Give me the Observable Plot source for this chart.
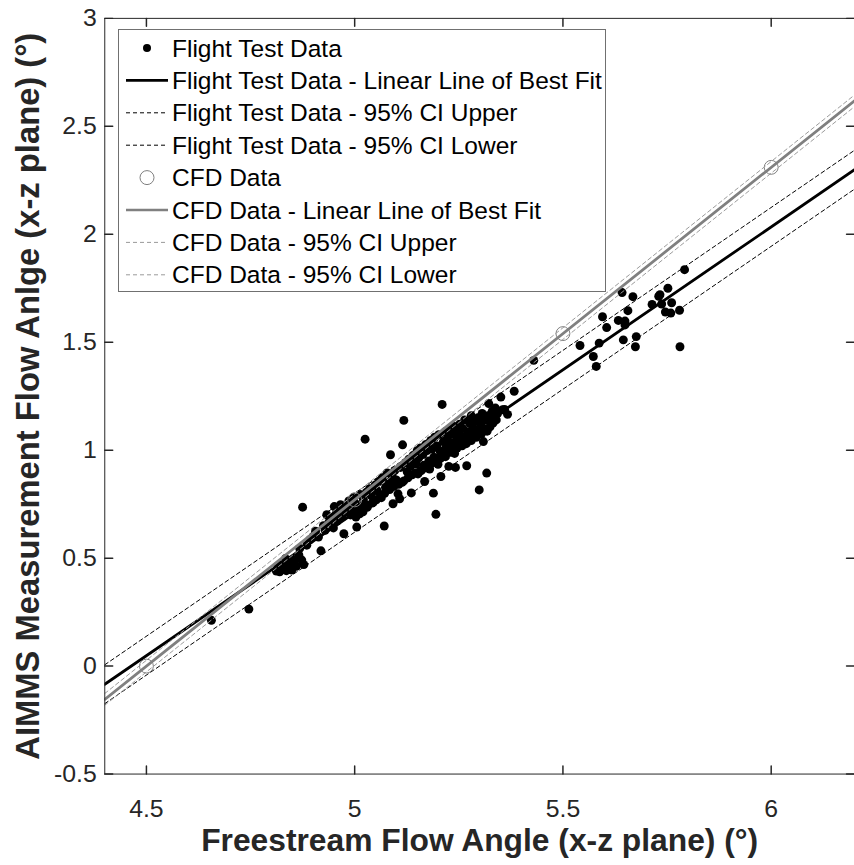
<!DOCTYPE html>
<html><head><meta charset="utf-8">
<script src="https://cdn.jsdelivr.net/npm/d3@7"></script>
<script src="https://cdn.jsdelivr.net/npm/@observablehq/plot@0.6"></script>
<style>
html,body{margin:0;padding:0;background:#fff;overflow:hidden;}
#wrap{position:relative;width:854px;height:865px;overflow:hidden;}
#legend{position:absolute;left:118px;top:29px;}
</style></head><body><div id="wrap"></div>
<script>
// ---- data ----
const xTicks = [4.5, 5, 5.5, 6];
const yTicks = [-0.5, 0, 0.5, 1, 1.5, 2, 2.5, 3];
const xLabel = "Freestream Flow Angle (x-z plane) (°)";
const yLabel = "AIMMS Measurement Flow Anlge (x-z plane) (°)";
const legendLabels = [
  "Flight Test Data",
  "Flight Test Data - Linear Line of Best Fit",
  "Flight Test Data - 95% CI Upper",
  "Flight Test Data - 95% CI Lower",
  "CFD Data",
  "CFD Data - Linear Line of Best Fit",
  "CFD Data - 95% CI Upper",
  "CFD Data - 95% CI Lower"
];
const flightTest = [
  [4.656,0.212],[4.746,0.264],
  [4.812,0.440],[4.815,0.455],[4.820,0.437],[4.822,0.470],[4.826,0.448],[4.830,0.460],[4.834,0.498],[4.836,0.442],[4.841,0.475],[4.845,0.452],[4.849,0.445],[4.852,0.485],[4.857,0.491],[4.860,0.462],[4.866,0.515],[4.873,0.491],[4.878,0.470],[4.868,0.545],[4.885,0.560],
  [4.875,0.736],[4.892,0.585],[4.900,0.600],[4.906,0.625],[4.913,0.598],[4.919,0.534],[4.925,0.650],[4.929,0.629],[4.933,0.701],[4.938,0.665],[4.944,0.688],[4.949,0.640],[4.951,0.739],[4.955,0.705],[4.958,0.672],[4.962,0.728],
  [4.966,0.748],[4.970,0.690],[4.974,0.613],[4.978,0.715],[4.982,0.742],[4.986,0.765],[4.990,0.700],[4.994,0.730],[4.998,0.782],[5.002,0.752],[5.005,0.644],[5.009,0.718],[5.013,0.795],[5.017,0.735],[5.021,0.770],[5.025,1.051],[5.028,0.805],[5.032,0.745],[5.036,0.822],[5.040,0.788],[5.045,0.760],[5.049,0.838],
  [5.003,0.690],[5.012,0.705],[5.020,0.715],[5.030,0.735],[5.042,0.755],[5.052,0.770],[5.064,0.780],[5.072,0.800],[5.084,0.818],[5.094,0.832],[5.106,0.842],[5.118,0.858],[5.128,0.872],[5.138,0.886],[5.146,0.895],
  [5.054,0.812],[5.058,0.855],[5.062,0.790],[5.066,0.872],[5.071,0.649],[5.074,0.828],[5.078,0.895],[5.082,0.850],[5.086,0.979],[5.090,0.878],[5.092,0.752],[5.096,0.905],[5.100,0.862],[5.104,0.798],[5.108,0.775],[5.110,0.920],[5.114,0.851],[5.115,1.025],[5.118,1.138],[5.122,0.942],[5.126,0.900],[5.130,0.958],[5.134,0.925],[5.136,0.802],[5.140,0.975],[5.144,0.940],[5.148,0.936],[5.150,0.998],
  [5.154,0.965],[5.158,1.010],[5.162,0.985],[5.164,0.980],[5.168,0.855],[5.170,1.025],[5.174,0.998],[5.177,1.031],[5.180,0.913],[5.183,1.045],[5.186,1.005],[5.189,0.801],[5.192,1.060],[5.195,0.703],[5.198,1.020],[5.202,1.072],[5.205,0.995],[5.207,0.878],[5.210,1.212],[5.213,1.040],[5.217,1.085],[5.220,1.015],[5.223,1.060],[5.226,0.925],[5.229,1.095],[5.232,1.035],[5.236,1.075],[5.239,1.110],[5.242,0.920],[5.245,1.050],[5.248,1.090],
  [5.152,0.890],[5.160,0.905],[5.166,0.930],[5.172,0.918],[5.178,0.950],[5.185,0.940],[5.190,0.968],[5.196,0.955],[5.200,0.935],[5.206,0.962],[5.212,0.985],[5.218,0.970],[5.224,1.000],[5.230,0.990],[5.236,1.018],[5.240,0.985],[5.246,1.010],[5.252,1.035],[5.258,1.020],[5.262,1.048],[5.268,1.030],[5.274,1.062],[5.280,1.045],[5.286,1.078],[5.292,1.060],[5.298,1.092],[5.304,1.075],[5.310,1.100],[5.318,1.088],[5.325,1.108],[5.332,1.125],[5.340,1.140],
  [5.252,1.120],[5.256,1.065],[5.260,1.100],[5.264,1.140],[5.269,0.928],[5.272,1.085],[5.276,1.125],[5.280,1.160],[5.284,1.105],[5.288,1.135],[5.292,1.080],[5.296,1.150],[5.299,0.816],[5.302,1.120],[5.306,1.170],[5.309,1.040],[5.312,1.140],[5.317,0.894],[5.320,1.160],[5.322,1.216],[5.326,1.125],[5.330,1.180],[5.334,1.150],[5.338,1.195],[5.343,1.170],[5.351,1.246],[5.355,1.187],[5.360,1.189],[5.367,1.166],[5.383,1.273],
  [5.430,1.416],[5.541,1.485],[5.573,1.434],[5.580,1.388],[5.587,1.496],[5.595,1.618],[5.605,1.568],[5.633,1.601],[5.642,1.730],[5.645,1.511],[5.649,1.598],[5.649,1.580],[5.656,1.646],[5.668,1.711],[5.674,1.479],[5.676,1.526],[5.714,1.675],[5.730,1.713],[5.733,1.720],[5.737,1.677],[5.746,1.640],[5.752,1.750],[5.759,1.635],[5.761,1.683],[5.780,1.648],[5.781,1.479],[5.792,1.836]
];
const cfdX = [4.5, 5.0, 5.5, 6.0];
const cfdY = [0.0, 0.77, 1.54, 2.31];
const fitX = [4.4, 6.2];
const ftFitY = [-0.084, 2.299];
const ftUpperY = [0.006, 2.389];
const ftLowerY = [-0.174, 2.209];
const cfdFitY = [-0.154, 2.618];
const cfdUpperY = [-0.127, 2.645];
const cfdLowerY = [-0.181, 2.591];

// ---- styles ----
const axisColor = "#262626";
const ftColor = "#000000";
const cfdColor = "#808080";
const cfdDashColor = "#9a9a9a";
const font = "'Liberation Sans', Arial, Helvetica, sans-serif";
const tickShape = {draw(ctx, l) { ctx.moveTo(0, 0); ctx.lineTo(0, -l); }};

const lineOf = (ys, opts) => Plot.line(fitX, {x: d => d, y: (d, i) => ys[i], clip: true, ...opts});

const plot = Plot.plot({
  width: 860, height: 865,
  marginLeft: 105, marginRight: 0, marginTop: 18, marginBottom: 86,
  style: {fontFamily: font, background: "white"},
  x: {domain: [4.4, 6.2]},
  y: {domain: [-0.5, 3]},
  marks: [
    Plot.dot(flightTest, {x: d => d[0], y: d => d[1], r: 4.5, fill: ftColor, stroke: null}),
    lineOf(ftFitY, {stroke: ftColor, strokeWidth: 2.8}),
    lineOf(ftUpperY, {stroke: ftColor, strokeWidth: 1, strokeDasharray: "4,3"}),
    lineOf(ftLowerY, {stroke: ftColor, strokeWidth: 1, strokeDasharray: "4,3"}),
    Plot.dot(cfdX, {x: d => d, y: (d, i) => cfdY[i], r: 7, fill: "none", stroke: cfdColor, strokeWidth: 1}),
    lineOf(cfdFitY, {stroke: cfdColor, strokeWidth: 2.8}),
    lineOf(cfdUpperY, {stroke: cfdDashColor, strokeWidth: 1, strokeDasharray: "4,3"}),
    lineOf(cfdLowerY, {stroke: cfdDashColor, strokeWidth: 1, strokeDasharray: "4,3"}),
    Plot.frame({stroke: axisColor, strokeWidth: 1}),
    Plot.vector(xTicks, {x: d => d, frameAnchor: "bottom", anchor: "start", length: 8, rotate: 0, shape: tickShape, stroke: axisColor}),
    Plot.vector(xTicks, {x: d => d, frameAnchor: "top", anchor: "start", length: 8, rotate: 180, shape: tickShape, stroke: axisColor}),
    Plot.vector(yTicks, {y: d => d, frameAnchor: "left", anchor: "start", length: 8, rotate: 90, shape: tickShape, stroke: axisColor}),
    Plot.vector(yTicks, {y: d => d, frameAnchor: "right", anchor: "start", length: 8, rotate: -90, shape: tickShape, stroke: axisColor}),
    Plot.axisX({ticks: xTicks, tickSize: 0, tickPadding: 25, tickFormat: d => String(d), fontSize: 25, color: axisColor, label: null}),
    Plot.axisY({ticks: yTicks, tickSize: 0, tickPadding: 8, tickFormat: d => String(d), fontSize: 25, color: axisColor, label: null}),
    Plot.text([xLabel], {text: d => d, frameAnchor: "bottom", dy: 67, lineAnchor: "middle", textAnchor: "middle", fontSize: 32, fontWeight: "bold", fill: axisColor}),
    Plot.text([yLabel], {text: d => d, frameAnchor: "left", dx: -77, rotate: -90, lineAnchor: "middle", textAnchor: "middle", fontSize: 33, fontWeight: "bold", fill: axisColor})
  ]
});
const wrap = document.getElementById("wrap");
wrap.appendChild(plot);

// ---- legend ----
const lw = 488, lh = 263, rowY0 = 19, rowStep = 32.4, sx1 = 8, sx2 = 50, textX = 54;
const leg = d3.create("svg").attr("id", "legend").attr("width", lw).attr("height", lh)
  .style("font-family", font);
leg.append("rect").attr("x", 0.5).attr("y", 0.5).attr("width", lw - 1).attr("height", lh - 1)
  .attr("fill", "white").attr("stroke", "#707070").attr("stroke-width", 1);
const legendStyles = [
  {type: "dot"},
  {type: "line", stroke: ftColor, width: 2.6},
  {type: "line", stroke: ftColor, width: 1, dash: "4,3"},
  {type: "line", stroke: ftColor, width: 1, dash: "4,3"},
  {type: "circle"},
  {type: "line", stroke: cfdColor, width: 2.6},
  {type: "line", stroke: cfdDashColor, width: 1, dash: "4,3"},
  {type: "line", stroke: cfdDashColor, width: 1, dash: "4,3"}
];
legendLabels.forEach((lab, i) => {
  const y = rowY0 + i * rowStep;
  const s = legendStyles[i];
  if (s.type === "dot") {
    leg.append("circle").attr("cx", (sx1 + sx2) / 2).attr("cy", y).attr("r", 4).attr("fill", ftColor);
  } else if (s.type === "circle") {
    leg.append("circle").attr("cx", (sx1 + sx2) / 2).attr("cy", y).attr("r", 7).attr("fill", "none").attr("stroke", cfdColor);
  } else {
    leg.append("line").attr("x1", sx1).attr("x2", sx2).attr("y1", y).attr("y2", y)
      .attr("stroke", s.stroke).attr("stroke-width", s.width).attr("stroke-dasharray", s.dash || null);
  }
  leg.append("text").attr("x", textX).attr("y", y).attr("dy", "0.35em")
    .attr("font-size", 24.5).attr("fill", "#000").text(lab);
});
wrap.appendChild(leg.node());
</script>
</body></html>
